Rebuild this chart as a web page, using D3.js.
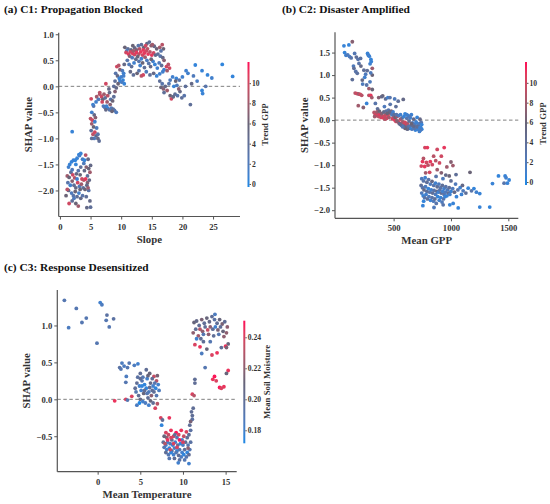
<!DOCTYPE html>
<html>
<head>
<meta charset="utf-8">
<script src="https://cdn.jsdelivr.net/npm/d3@7"></script>
<style>
  body { margin: 0; background: #fff; }
  text { font-family: "Liberation Serif", "Times New Roman", serif; font-weight: bold; fill: #333; }
</style>
</head>
<body>
<svg id="chart" width="550" height="504"></svg>
<script>
// Points are [feature value, SHAP value, colour feature value]
const slopePoints = [
  [1.6,-1.5,0.5],[1.9,-1.45,0.3],[2.2,-1.42,0.8],[2.5,-1.42,0.2],[2.8,-1.38,0.5],[3.1,-1.31,0.2],[3.4,-1.29,0.6],
  [3.2,-1.33,1],[3.7,-1.4,1.5],[4.0,-1.42,0.3],[1.4,-1.55,1],[2.6,-1.5,0.4],[3.9,-1.48,2],
  [4.2,-1.32,9],[4.6,-1.4,5],[4.3,-1.55,7],[4.7,-1.58,6],[4.9,-1.65,8],[4.5,-1.72,4],[5.0,-1.52,5],
  [1.2,-1.72,8],[1.5,-1.75,6],[1.8,-1.65,4],[2.1,-1.7,10],[2.4,-1.76,9],[2.7,-1.68,5],[3.0,-1.62,3],[3.3,-1.7,6],
  [3.6,-1.78,10],[3.9,-1.8,9],[4.2,-1.78,11],[4.5,-1.85,7],[4.8,-1.8,5],
  [1.3,-1.85,3],[1.7,-1.9,1],[2.0,-1.82,7],[2.3,-1.9,4],[2.6,-1.95,5],[2.9,-1.85,10],[3.2,-1.92,2],[3.5,-1.88,8],
  [3.8,-1.95,4],[4.1,-1.98,6],[4.4,-1.9,5],[4.7,-2.0,3],
  [1.0,-2.1,6],[1.4,-2.0,5],[1.9,-2.05,2],[2.2,-2.1,3],[2.5,-2.02,6],[2.8,-2.12,4],[3.1,-2.05,1],[3.4,-2.15,5],
  [3.7,-2.1,3],[4.3,-2.12,4],[4.9,-2.2,5],
  [1.5,-2.25,10],[2.0,-2.2,4],[2.6,-2.25,6],[2.3,-2.15,2],[3.0,-2.3,8],[4.4,-2.33,5],[5.0,-2.32,4],[1.2,-1.98,9],
  [2.0,-1.6,2],[3.4,-1.55,4],[4.0,-1.62,5],[2.8,-1.78,1],[3.3,-1.98,6],[4.6,-1.95,8],
  [2.0,-0.87,0.5],
  [5.1,-0.24,10],[5.5,-0.38,3],[5.2,-0.5,1],[5.6,-0.55,5],[5.0,-0.62,9],[5.3,-0.65,10],[5.8,-0.6,7],[5.2,-0.72,8],
  [5.5,-0.78,6],[5.1,-0.85,4],[5.4,-0.92,9],[5.7,-0.88,10],[5.9,-0.95,5],[6.2,-0.92,3],[6.4,-1.05,4],[6.0,-0.8,2],
  [5.6,-1.0,2],[5.2,-1.0,4],[5.7,-0.68,1],[6.2,-1.0,5],[5.9,-0.3,1],[5.4,-0.35,1],[6.0,-0.2,8],[6.5,-0.15,9],[6.3,-0.25,2],
  [6.5,-0.12,9],[6.8,-0.2,10],[7.0,-0.25,6],[7.2,-0.15,8],[7.5,0.05,10],[7.4,-0.22,4],[7.8,-0.18,9],[8.1,-0.12,5],
  [8.3,-0.25,3],[8.6,-0.28,6],[8.2,-0.35,7],[8.0,-0.05,5],[7.3,-0.4,2],[7.6,-0.38,1],[7.8,-0.42,0.5],[8.1,-0.45,3],
  [8.4,-0.42,2],[8.7,-0.44,4],[8.9,-0.46,3],[7.5,-0.45,5],[7.1,-0.38,2],[8.5,-0.48,6],[9.2,-0.5,2],[8.8,-0.2,4],
  [9.0,-0.1,7],[6.9,-0.3,10],[7.7,-0.3,8],
  [9.3,0.38,10],[9.6,0.4,9],[9.8,0.32,7],[9.1,0.25,3],[9.4,0.2,5],[9.7,0.15,0.5],[10.0,0.18,1],[10.3,0.12,0.3],
  [10.1,0.08,2],[9.8,0.1,0.8],[10.4,0.2,1.2],[9.0,0.1,4],[8.8,0.0,4],[9.5,0.05,6],[10.5,0.05,0.5],[9.2,-0.03,5],
  [10.2,0.3,2],[10.4,0.25,1],
  [10.6,0.75,6],[11.1,0.72,4],[11.6,0.7,5],[12.2,0.74,5],[12.8,0.78,3],[13.3,0.8,4],[13.7,0.75,6],[14.2,0.82,5],
  [14.6,0.85,4],[14.9,0.78,7],[15.4,0.77,5],[15.8,0.72,6],[16.3,0.75,8],[16.7,0.8,9],[16.9,0.72,6],[16.5,0.68,3],
  [13.0,0.72,9],[14.0,0.78,10],[15.1,0.8,8],[11.9,0.78,6],[10.9,0.68,2],[12.5,0.7,7],
  [10.8,0.65,10],[11.2,0.62,11],[11.5,0.66,10],[11.9,0.63,11],[12.2,0.61,10],[12.5,0.65,11],[12.9,0.62,9],
  [13.2,0.66,11],[13.5,0.6,10],[13.8,0.64,11],[14.1,0.68,10],[14.4,0.62,11],[14.7,0.66,9],[15.0,0.6,11],
  [15.3,0.64,10],[13.6,0.7,11],[14.3,0.72,9],[12.0,0.68,8],[11.4,0.58,7],[12.7,0.57,6],[13.9,0.56,8],[15.6,0.6,5],
  [16.0,0.62,4],[16.4,0.58,3],[16.8,0.55,5],[17.0,0.5,7],
  [11.0,0.5,3],[11.3,0.42,2],[11.7,0.38,4],[12.1,0.45,1],[12.4,0.52,5],[12.9,0.48,3],[13.1,0.4,1],[13.5,0.45,6],
  [13.8,0.36,4],[14.2,0.5,2],[14.5,0.44,3],[14.8,0.38,5],[15.2,0.48,1],[15.5,0.42,0.5],[15.9,0.35,1],[16.2,0.45,2],
  [16.6,0.4,4],[17.0,0.32,0.8],[17.4,0.38,10],[17.7,0.42,9],[17.9,0.35,10],[17.5,0.3,8],[16.8,0.28,1],[10.5,0.42,5],
  [11.8,0.55,2],[13.3,0.53,1],[14.9,0.52,6],
  [11.5,0.28,5],[12.0,0.22,4],[12.6,0.25,6],[13.3,0.2,9],[13.6,0.22,10],[14.1,0.28,2],[14.7,0.22,4],[15.3,0.25,5],
  [15.8,0.2,0.5],[16.3,0.24,1],[12.9,0.3,3],
  [16.5,-0.02,6],[16.9,-0.05,7],[17.2,0.0,5],[17.5,-0.08,8],[17.0,-0.12,4],[16.7,0.05,3],[18.0,-0.18,6],[18.2,-0.24,10],
  [18.5,-0.2,5],[18.8,-0.15,4],[19.2,-0.18,3],[19.6,-0.1,5],[19.9,-0.22,4],[20.3,-0.18,3],[18.6,0.0,0.5],[19.1,0.02,2],
  [20.5,0.0,4],[21.3,-0.35,4],[18.0,0.12,2],[18.4,0.18,1],[19.0,0.15,0.5],[19.5,0.12,3],[20.0,0.18,1],[20.6,0.3,1],
  [20.9,0.25,1],[21.5,0.05,5],[16.3,0.1,4],[17.8,0.05,3],[18.9,0.1,6],[19.4,-0.05,7],
  [22.1,0.41,0.3],[23.2,0.3,0.5],[24.1,0.22,0.4],[24.8,0.16,1],[26.5,0.42,0.2],[28.2,0.19,0.3],[23.2,-0.08,0.4],
  [23.3,-0.14,0.6],[22.4,0.1,1.5],[21.8,0.2,2],[23.8,0.0,3]
];

const gppPoints = [
  [67,1.65,0.5],[110,1.67,0.3],[140,1.74,7],[73,1.5,0.4],[85,1.44,1],[100,1.45,2],[116,1.41,1.5],[130,1.38,3],
  [160,1.48,2.5],[175,1.4,4],[190,1.35,3],[212,1.37,3.5],[273,1.48,0.5],[280,1.44,1],[288,1.42,0.8],[302,1.35,0.4],
  [150,1.2,2],[154,1.15,4],[170,1.08,3],[198,1.26,3],[215,1.2,5],[241,1.11,4],[183,1.04,3.5],[256,1.02,2],
  [270,1.1,4],[295,1.25,1],[305,1.3,0.6],[314,1.15,8],[314,1.0,6],[300,1.05,2],[140,0.9,4],[227,0.89,5],
  [248,0.95,1],[294,0.85,2],[285,0.7,8],[314,0.68,6],[265,0.78,3],[230,0.8,2],
  [165,0.6,9],[180,0.59,10],[195,0.58,8],[209,0.57,10],[222,0.55,9],[285,0.55,9],[300,0.55,11],[310,0.5,8],
  [192,0.32,8],[236,0.28,7],[265,0.37,0.5],[341,0.37,3],[370,0.5,7],[405,0.54,6],[396,0.52,5],[430,0.47,4],
  [450,0.5,1],[468,0.5,3],[509,0.47,2],[540,0.42,4],[584,0.46,5],[520,0.3,4],[470,0.35,3],[420,0.3,2],[360,0.25,4],
  [330,0.17,9],[340,0.12,10],[350,0.1,11],[360,0.14,10],[370,0.08,9],[380,0.12,11],[390,0.06,10],[400,0.1,9],
  [410,0.05,11],[420,0.08,10],[430,0.12,9],[440,0.04,11],[450,0.1,10],[460,0.06,8],[470,0.15,9],[480,0.2,7],
  [490,0.03,10],[500,0.08,9],[510,0.0,11],[520,-0.03,10],[335,0.08,8],[355,0.18,8],[375,0.2,6],[395,0.15,7],
  [415,0.18,5],[435,0.2,4],[455,0.22,3],[465,0.18,5],[445,0.15,6],[425,0.02,9],[485,0.12,2],[495,0.18,1],
  [505,0.12,4],[515,0.06,6],[530,0.08,8],[540,-0.04,10],[550,-0.06,11],[560,0.02,9],[570,-0.08,10],[580,-0.04,8],
  [590,-0.1,9],[600,-0.05,10],[610,-0.12,11],[620,-0.08,9],[530,-0.02,7],
  [525,0.12,3],[545,0.1,2],[560,0.12,1],[575,0.05,4],[590,0.08,0.5],[600,0.14,0.3],[615,0.04,3],[625,0.1,1],
  [635,-0.02,4],[645,0.05,0.5],[655,0.12,0.8],[665,-0.06,2],[675,0.02,5],[685,-0.1,3],[695,-0.04,1],[705,0.06,0.5],
  [715,-0.12,4],[725,-0.08,2],[735,-0.16,1],[745,-0.2,0.4],[740,-0.05,3],[730,0.02,5],[720,-0.18,0.6],[710,-0.2,1],
  [700,-0.15,4],[690,-0.22,0.5],[680,-0.18,3],[670,-0.14,5],[660,-0.2,2],[650,-0.12,4],[640,-0.18,0.4],[630,-0.14,3],
  [620,-0.2,5],[610,-0.16,4],[600,-0.18,6],[590,-0.14,5],[580,-0.15,3],[570,-0.12,2],[560,-0.1,4],[550,-0.08,5],
  [745,-0.1,0.5],[735,-0.22,2],[725,-0.25,1],[700,-0.06,0.8],[655,-0.08,6],[640,0.08,2],[615,0.12,1],
  [773,-0.61,10],[794,-0.61,11],[880,-0.65,10],[941,-0.61,11],[849,-0.8,9],[916,-0.8,10],[752,-0.92,11],
  [786,-0.94,10],[820,-0.92,11],[867,-0.9,9],[741,-1.02,10],[771,-1.03,11],[800,-1.0,9],[837,-0.99,10],
  [964,-1.04,8],[1000,-0.93,7],[1017,-1.01,8],[779,-1.17,8],[814,-1.16,10],[916,-1.17,7],[955,-1.22,5],
  [985,-1.24,6],[1044,-1.21,4],[1166,-1.16,6],[760,-0.85,9],[900,-0.95,10],[880,-1.1,8],
  [745,-1.3,2],[760,-1.35,3],[775,-1.28,1],[790,-1.38,4],[805,-1.32,3],[820,-1.42,2],[835,-1.36,5],[850,-1.45,3],
  [865,-1.4,1],[880,-1.48,4],[895,-1.42,2],[910,-1.5,3],[925,-1.45,4],[940,-1.52,1],[955,-1.48,3],[970,-1.55,2],
  [985,-1.5,4],[1000,-1.58,0.5],[1015,-1.52,2],
  [740,-1.45,4],[752,-1.5,3],[765,-1.55,5],[778,-1.48,2],[790,-1.58,4],[803,-1.52,0.5],[815,-1.6,3],[828,-1.55,1],
  [840,-1.62,4],[853,-1.56,3],[866,-1.65,2],[878,-1.58,5],[890,-1.6,0.8],[903,-1.55,3],[915,-1.62,4],[928,-1.58,1],
  [940,-1.65,3],[952,-1.6,2],[965,-1.68,0.5],[978,-1.62,4],[990,-1.65,1],
  [745,-1.62,2],[758,-1.68,0.5],[770,-1.72,3],[783,-1.65,1],[795,-1.75,4],[808,-1.7,2],[822,-1.78,0.6],[835,-1.72,3],
  [848,-1.8,2],[860,-1.75,4],[872,-1.85,3],[885,-1.7,0.4],[898,-1.78,1],[910,-1.72,0.6],[922,-1.82,2],[935,-1.75,3],
  [948,-1.7,0.5],
  [762,-1.8,0.3],[755,-1.9,0.5],[852,-1.94,2],[932,-1.88,3],[990,-1.88,0.4],[1019,-1.85,0.5],[1063,-1.95,0.3],
  [1251,-1.93,0.5],[1338,-1.93,0.3],
  [1048,-1.7,0.5],[1092,-1.65,0.8],[1106,-1.57,2],[1150,-1.51,0.4],[1179,-1.57,3],[1222,-1.6,1],[1251,-1.63,0.5],
  [1200,-1.52,0.3],[1130,-1.62,4],[1060,-1.55,3],[1080,-1.5,1],[1030,-1.6,5],[1414,-1.24,0.3],[1472,-1.24,0.5],
  [1507,-1.33,0.4],[1362,-1.41,0.6],[1463,-1.4,3],[1492,-1.4,0.5],[1480,-1.28,1],
  [870,-1.25,3],[930,-1.3,2],[1000,-1.35,4],[1040,-1.42,2],[1100,-1.45,5]
];

const tempPoints = [
  [-3.9,1.34,0.19],[-3.4,0.97,0.185],[-2.5,1.23,0.19],[-1.84,1.04,0.19],[-1.33,1.1,0.19],[-0.08,0.76,0.19],
  [0.3,1.31,0.18],[0.5,1.28,0.185],[1.09,1.14,0.195],[1.0,1.07,0.19],[1.87,1.09,0.195],[1.36,0.98,0.19],
  [2.85,0.49,0.185],[3.7,0.49,0.19],[4.72,0.48,0.18],[4.3,0.46,0.185],[2.58,0.43,0.195],[2.73,0.41,0.19],
  [3.1,0.45,0.185],[3.5,0.43,0.19],[3.36,0.31,0.185],[3.3,0.23,0.19],[5.0,0.35,0.2],[5.3,0.3,0.19],
  [5.7,0.4,0.2],[6.1,0.35,0.21],[6.6,0.31,0.235],[6.9,0.25,0.23],[4.6,0.22,0.2],[4.9,0.18,0.18],[5.2,0.25,0.19],
  [5.5,0.2,0.175],[5.8,0.28,0.18],[6.2,0.22,0.205],[6.5,0.18,0.18],[6.8,0.15,0.175],[7.1,0.2,0.18],[7.2,0.12,0.185],
  [4.5,0.1,0.19],[4.8,0.05,0.2],[5.1,0.12,0.18],[5.4,0.08,0.21],[5.7,0.15,0.175],[6.0,0.1,0.185],[6.3,0.05,0.22],
  [6.6,0.1,0.2],[6.9,0.05,0.19],[5.0,0.0,0.205],[5.3,-0.03,0.18],[5.6,-0.05,0.185],[5.9,0.02,0.2],[6.2,-0.02,0.21],
  [6.5,-0.05,0.2],[6.75,-0.12,0.24],[7.0,-0.06,0.23],[4.7,0.3,0.195],[5.0,0.28,0.2],[5.9,0.32,0.21],[6.4,0.28,0.2],
  [7.0,0.32,0.215],[4.4,0.15,0.2],[5.5,0.12,0.2],[6.1,0.16,0.2],[6.7,0.22,0.19],[5.2,0.18,0.175],[6.0,-0.08,0.18],
  [4.9,-0.05,0.17],[5.8,0.08,0.19],[6.4,0.12,0.2],[4.6,-0.08,0.185],
  [2.0,-0.02,0.245],[3.3,0.0,0.24],[3.5,-0.01,0.19],[4.0,0.04,0.24],
  [7.4,-0.25,0.24],[8.4,-0.25,0.245],[7.5,-0.35,0.175],[7.6,-0.28,0.2],[11.0,-0.17,0.2],[11.1,-0.27,0.195],
  [10.8,-0.35,0.2],[10.9,-0.3,0.215],
  [8.0,-0.45,0.24],[8.3,-0.48,0.235],[8.6,-0.42,0.245],[8.9,-0.5,0.24],[9.2,-0.45,0.25],[9.5,-0.48,0.24],
  [9.8,-0.42,0.245],[10.1,-0.5,0.235],[10.4,-0.44,0.24],[10.7,-0.48,0.2],[8.1,-0.52,0.22],[8.7,-0.55,0.2],
  [9.3,-0.52,0.19],[9.9,-0.55,0.18],[10.5,-0.52,0.2],[7.8,-0.5,0.21],[10.9,-0.42,0.195],
  [7.7,-0.58,0.2],[8.0,-0.62,0.175],[8.2,-0.58,0.18],[8.5,-0.6,0.19],[8.8,-0.62,0.175],[9.1,-0.58,0.18],
  [9.4,-0.62,0.2],[9.7,-0.6,0.175],[10.0,-0.62,0.185],[10.3,-0.58,0.2],[10.6,-0.62,0.19],[10.9,-0.58,0.195],
  [7.8,-0.65,0.19],[8.1,-0.68,0.18],[8.4,-0.66,0.175],[8.7,-0.7,0.2],[9.0,-0.66,0.185],[9.3,-0.7,0.175],
  [9.6,-0.68,0.19],[9.9,-0.72,0.18],[10.2,-0.68,0.2],[10.5,-0.72,0.175],[10.8,-0.68,0.19],
  [8.0,-0.72,0.2],[8.3,-0.75,0.19],[8.6,-0.72,0.175],[8.9,-0.75,0.18],[9.2,-0.72,0.19],[9.5,-0.76,0.2],
  [9.8,-0.78,0.185],[10.1,-0.75,0.175],[10.4,-0.78,0.19],[10.7,-0.75,0.2],
  [8.4,-0.8,0.19],[9.0,-0.8,0.2],[9.6,-0.82,0.195],[10.2,-0.82,0.19],[9.45,-0.86,0.18],[10.7,-0.87,0.18],
  [8.2,-0.55,0.245],[8.9,-0.6,0.24],[9.6,-0.55,0.25],[10.0,-0.58,0.24],[8.5,-0.68,0.235],[9.3,-0.65,0.24],
  [7.9,-0.6,0.23],[10.6,-0.66,0.22],[8.6,-0.52,0.24],[9.05,-0.48,0.2],[11.1,-0.22,0.2],[11.2,-0.12,0.2],
  [11.3,1.04,0.21],[11.6,1.06,0.205],[11.9,1.0,0.2],[12.2,1.08,0.215],[12.5,1.03,0.2],[12.8,1.1,0.21],
  [13.1,1.05,0.205],[13.4,1.12,0.2],[13.7,1.08,0.195],[14.0,1.03,0.2],[14.3,1.08,0.21],[14.6,1.02,0.215],
  [14.9,1.05,0.2],[15.2,0.98,0.22],[13.75,1.15,0.185],[12.0,0.95,0.23],[12.3,0.92,0.22],[12.6,0.98,0.2],
  [12.9,0.94,0.235],[13.2,0.98,0.22],[13.5,0.95,0.2],[13.8,0.98,0.18],[14.1,0.94,0.215],[14.4,0.98,0.2],
  [14.7,0.92,0.21],[15.1,0.9,0.22],[11.5,0.95,0.2],[11.2,0.9,0.22],[11.8,0.86,0.225],[12.1,0.82,0.2],
  [12.4,0.88,0.19],[13.0,0.88,0.22],[13.6,0.86,0.2],[14.2,0.88,0.19],[14.8,0.85,0.22],[15.3,0.75,0.21],
  [15.0,0.72,0.245],
  [11.4,0.74,0.24],[12.0,0.71,0.245],[12.4,0.78,0.2],[12.8,0.68,0.21],[13.4,0.6,0.24],[14.0,0.63,0.245],
  [14.5,0.7,0.2],[15.1,0.7,0.215],[11.6,0.82,0.18],[13.2,0.78,0.19],[12.6,0.43,0.19],[12.2,0.62,0.185],
  [13.5,0.27,0.245],[13.7,0.31,0.25],[13.9,0.25,0.24],[14.3,0.16,0.25],[14.8,0.17,0.245],[15.3,0.39,0.245],
  [15.1,0.35,0.21],[14.5,0.15,0.24],
  [11.4,0.27,0.2],[11.4,0.22,0.2],[11.1,0.07,0.24],[11.3,0.05,0.23]
];

// Tick labels
const slopeTicks = [0, 5, 10, 15, 20, 25];
const gppTicks = [500, 1000, 1500];
const tempTicks = [0, 5, 10, 15];
const shapTicksA = [-2.0, -1.5, -1.0, -0.5, 0.0, 0.5, 1.0];
const shapTicksB = [-2.0, -1.5, -1.0, -0.5, 0.0, 0.5, 1.0, 1.5];
const shapTicksC = [-0.5, 0.0, 0.5, 1.0];
const trendGppTicks = [0, 2, 4, 6, 8, 10];
const soilTicks = [0.18, 0.20, 0.22, 0.24];

const blue = "#1E88E5", mid = "#676478", red = "#FF0D57";

const panels = [
  { title: "(a) C1: Propagation Blocked", points: slopePoints, xLabel: "Slope", cLabel: "Trend GPP",
    xTicks: slopeTicks, yTicks: shapTicksA, cTicks: trendGppTicks, xFmt: d3.format("d"), cFmt: d3.format("d"),
    box: { l: 58.7, r: 240, t: 32.7, b: 216.5 }, xDom: [-0.2, 29.4], yDom: [-2.5, 1.03],
    cbar: { x: 247.5, t: 62, b: 187 }, cDom: [-0.3, 12.1], titleXY: [4, 13], cLabelX: 268 },
  { title: "(b) C2: Disaster Amplified", points: gppPoints, xLabel: "Mean GPP", cLabel: "Trend GPP",
    xTicks: gppTicks, yTicks: shapTicksB, cTicks: trendGppTicks, xFmt: d3.format("d"), cFmt: d3.format("d"),
    box: { l: 335, r: 518.3, t: 32.3, b: 218.3 }, xDom: [-11, 1587], yDom: [-2.18, 1.95],
    cbar: { x: 525, t: 62, b: 185 }, cDom: [-0.3, 12.1], titleXY: [282, 13], cLabelX: 545.5 },
  { title: "(c) C3: Response Desensitized", points: tempPoints, xLabel: "Mean Temperature", cLabel: "Mean Soil Moisture",
    xTicks: tempTicks, yTicks: shapTicksC, cTicks: soilTicks, xFmt: d3.format("d"), cFmt: d3.format(".2f"),
    box: { l: 57.3, r: 236.7, t: 290, b: 471.7 }, xDom: [-4.73, 16.3], yDom: [-0.98, 1.48],
    cbar: { x: 243.3, t: 320.7, b: 443.3 }, cDom: [0.1716, 0.2507], titleXY: [4, 271], cLabelX: 270 }
];

const svg = d3.select("#chart");
const defs = svg.append("defs");

panels.forEach((p, i) => {
  const g = svg.append("g");
  const x = d3.scaleLinear().domain(p.xDom).range([p.box.l, p.box.r]);
  const y = d3.scaleLinear().domain(p.yDom).range([p.box.b, p.box.t]);
  const cm = (p.cDom[0] + p.cDom[1]) / 2;
  const color = d3.scaleLinear().domain([p.cDom[0], cm, p.cDom[1]])
    .range([blue, mid, red]).interpolate(d3.interpolateLab).clamp(true);

  // title
  g.append("text").attr("x", p.titleXY[0]).attr("y", p.titleXY[1])
    .style("font-size", "11.4px").style("fill", "#111").text(p.title);

  // zero line
  g.append("line").attr("x1", p.box.l).attr("x2", p.box.r)
    .attr("y1", y(0)).attr("y2", y(0))
    .attr("stroke", "#808080").attr("stroke-width", 1).attr("stroke-dasharray", "3.5,2.5");

  // points
  g.append("g").selectAll("circle").data(p.points).join("circle")
    .attr("cx", d => x(d[0])).attr("cy", d => y(d[1])).attr("r", 1.9)
    .attr("fill", d => color(d[2]));

  // axes
  const xAxis = g.append("g").attr("transform", `translate(0,${p.box.b})`)
    .call(d3.axisBottom(x).tickValues(p.xTicks).tickFormat(p.xFmt).tickSize(3).tickPadding(4));
  const yAxis = g.append("g").attr("transform", `translate(${p.box.l},0)`)
    .call(d3.axisLeft(y).tickValues(p.yTicks).tickFormat(d3.format(".1f")).tickSize(3).tickPadding(2));
  [xAxis, yAxis].forEach(a => {
    a.select(".domain").attr("stroke", "#555").attr("stroke-width", 1.2);
    a.selectAll(".tick line").attr("stroke", "#555");
    a.selectAll(".tick text").style("font-size", "8.6px").style("fill", "#333")
      .style("font-family", '"Liberation Serif", serif').style("font-weight", "bold");
  });
  xAxis.select(".domain").attr("d", `M${p.box.l},0H${p.box.r}`);
  yAxis.select(".domain").attr("d", `M0,${p.box.t}V${p.box.b}`);

  // axis labels
  g.append("text").attr("x", (p.box.l + p.box.r) / 2).attr("y", p.box.b + 26)
    .attr("text-anchor", "middle").style("font-size", "10.8px").text(p.xLabel);
  g.append("text").attr("transform", `translate(${p.box.l - 27},${(p.box.t + p.box.b) / 2}) rotate(-90)`)
    .attr("text-anchor", "middle").style("font-size", "10.8px").text("SHAP value");

  // colour bar
  const gid = "cbar" + i;
  const grad = defs.append("linearGradient").attr("id", gid)
    .attr("x1", 0).attr("y1", 1).attr("x2", 0).attr("y2", 0);
  d3.range(0, 1.0001, 0.1).forEach(t => {
    grad.append("stop").attr("offset", t)
      .attr("stop-color", color(p.cDom[0] + t * (p.cDom[1] - p.cDom[0])));
  });
  const cy = d3.scaleLinear().domain(p.cDom).range([p.cbar.b, p.cbar.t]);
  g.append("rect").attr("x", p.cbar.x).attr("y", p.cbar.t).attr("width", 2)
    .attr("height", p.cbar.b - p.cbar.t).attr("fill", `url(#${gid})`);
  const cAxis = g.append("g").attr("transform", `translate(${p.cbar.x + 2},0)`)
    .call(d3.axisRight(cy).tickValues(p.cTicks).tickFormat(p.cFmt).tickSize(1.5).tickPadding(1));
  cAxis.select(".domain").remove();
  cAxis.selectAll(".tick line").attr("stroke", "#555");
  cAxis.selectAll(".tick text").style("font-size", "7.6px").style("fill", "#333")
    .style("font-family", '"Liberation Serif", serif').style("font-weight", "bold");
  g.append("text").attr("transform", `translate(${p.cLabelX},${(p.cbar.t + p.cbar.b) / 2}) rotate(-90)`)
    .attr("text-anchor", "middle").style("font-size", "8.8px").text(p.cLabel);
});
</script>
</body>
</html>
